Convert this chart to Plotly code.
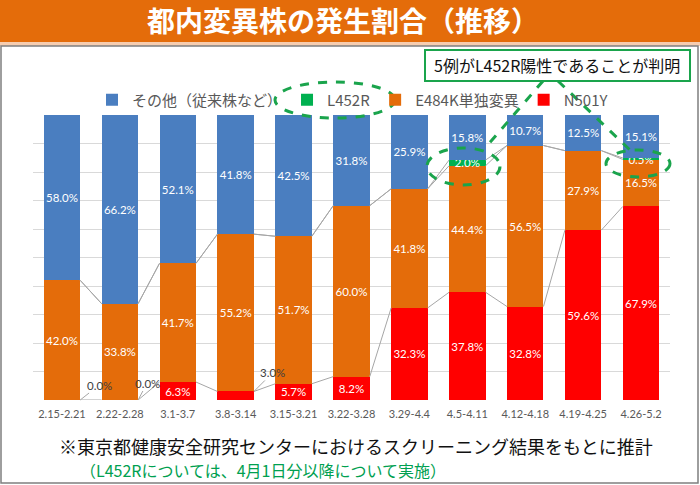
import numpy as np
import plotly.graph_objects as go

# ---------------- data ----------------
weeks = ["2.15-2.21", "2.22-2.28", "3.1-3.7", "3.8-3.14", "3.15-3.21", "3.22-3.28",
         "3.29-4.4", "4.5-4.11", "4.12-4.18", "4.19-4.25", "4.26-5.2"]
n501y = [0.0, 0.0, 6.3, 3.0, 5.7, 8.2, 32.3, 37.8, 32.8, 59.6, 67.9]
e484k = [42.0, 33.8, 41.7, 55.2, 51.7, 60.0, 41.8, 44.4, 56.5, 27.9, 16.5]
l452r = [None, None, None, None, None, None, None, 2.0, 0.0, 0.0, 0.5]
others = [58.0, 66.2, 52.1, 41.8, 42.5, 31.8, 25.9, 15.8, 10.7, 12.5, 15.1]

names = ["N501Y", "E484K単独変異", "L452R", "その他（従来株など）"]
title_text = "都内変異株の発生割合（推移）"
callout_text = "5例がL452R陽性であることが判明"
note1 = "※東京都健康安全研究センターにおけるスクリーニング結果をもとに推計"
note2 = "（L452Rについては、4月1日分以降について実施）"

# ---------------- style ----------------
W, H = 700, 485
ML, MR, MT, MB = 33, 30, 115, 85
PW, PH = W - ML - MR, H - MT - MB
colors = ["#FF0000", "#E46C0A", "#00B050", "#4A7EC0"]
GREEN = "#1AA44C"
BAR_W = 0.63
LABEL_FONT = "Lato, 'Noto Sans', sans-serif"
JP_FONT = "'Noto Sans CJK JP', sans-serif"


def PX(x):
    return (x - ML) / PW


def PY(y):
    return (H - MB - y) / PH


series = [n501y, e484k, l452r, others]
vals = np.array([[0.0 if v is None else v for v in s] for s in series])
tot = vals.sum(axis=0)
norm = vals / tot * 100
cum = np.cumsum(norm, axis=0)
xs = np.arange(len(weeks))

fig = go.Figure()
for k, (s, name, col) in enumerate(zip(series, names, colors)):
    if k == 0:
        txt = [f"{v:.1f}%" if v >= 5 else "" for v in s]
    else:
        txt = [f"{v:.1f}%" if (v is not None and v > 0) else "" for v in s]
    fig.add_trace(go.Bar(
        x=xs, y=s, name=name, marker=dict(color=col, line=dict(width=0)),
        width=BAR_W, text=txt, textposition="inside", insidetextanchor="middle",
        textangle=0,
        textfont=dict(color="white", size=11.5, family=LABEL_FONT),
        constraintext="none", cliponaxis=False, hoverinfo="skip",
    ))

# series lines (connectors between stacked segment tops)
lx, ly = [], []
for k in range(3):
    for i in range(len(weeks) - 1):
        lx += [xs[i] + BAR_W / 2, xs[i + 1] - BAR_W / 2, None]
        ly += [cum[k, i], cum[k, i + 1], None]
fig.add_trace(go.Scatter(x=lx, y=ly, mode="lines", line=dict(color="#A6A6A6", width=1),
                         showlegend=False, hoverinfo="skip"))

annotations = []
shapes = []

# outside labels for small N501Y values
offsets = {0: (19, -15), 1: (9, -17), 3: (19, -19)}
for i, v in enumerate(n501y):
    if v < 5:
        ax, ay = offsets.get(i, (15, -15))
        annotations.append(dict(
            x=xs[i] + BAR_W / 2, y=cum[0, i], xref="x", yref="y", text=f"{v:.1f}%",
            showarrow=True, arrowhead=0, arrowwidth=1, arrowcolor="#A6A6A6",
            ax=ax, ay=ay, standoff=0,
            font=dict(size=11.5, color="#404040", family=LABEL_FONT)))

# title bar
shapes.append(dict(type="rect", xref="paper", yref="paper", x0=PX(0), x1=PX(W), y0=PY(0), y1=PY(42),
                   fillcolor="#E46C0A", line=dict(width=0), layer="below"))
shapes.append(dict(type="rect", xref="paper", yref="paper", x0=PX(0), x1=PX(W), y0=PY(42), y1=PY(46),
                   fillcolor="#F6CDB0", line=dict(width=0), layer="below"))
annotations.append(dict(x=PX(343), y=PY(20), xref="paper", yref="paper", text=f"<b>{title_text}</b>",
                        showarrow=False, xanchor="center", yanchor="middle",
                        font=dict(size=28, color="white", family=JP_FONT)))
# slide border
shapes.append(dict(type="rect", xref="paper", yref="paper", x0=PX(1), x1=PX(698), y0=PY(46), y1=PY(483),
                   line=dict(color="#7F7F7F", width=1.5), layer="below"))

# callout box
shapes.append(dict(type="rect", xref="paper", yref="paper", x0=PX(425), x1=PX(690), y0=PY(50), y1=PY(81),
                   fillcolor="white", line=dict(color=GREEN, width=2)))
annotations.append(dict(x=PX(557), y=PY(65.5), xref="paper", yref="paper", text=callout_text,
                        showarrow=False, xanchor="center", yanchor="middle",
                        font=dict(size=16, color="#111111", family=JP_FONT)))
# dashed pointers and ellipses
for (x0, y0, x1, y1) in [(543, 81, 486, 147), (558, 81, 630, 150)]:
    shapes.append(dict(type="line", xref="paper", yref="paper", x0=PX(x0), y0=PY(y0), x1=PX(x1), y1=PY(y1),
                       line=dict(color=GREEN, width=3, dash="dash")))
for (x0, y0, x1, y1) in [(275, 82, 395, 118), (427, 148, 500, 185), (606, 150, 670, 177)]:
    shapes.append(dict(type="circle", xref="paper", yref="paper", x0=PX(x0), y0=PY(y0), x1=PX(x1), y1=PY(y1),
                       line=dict(color=GREEN, width=3, dash="dash")))

# footnotes
annotations.append(dict(x=PX(356), y=PY(445.5), xref="paper", yref="paper", text=note1, showarrow=False,
                        xanchor="center", yanchor="middle",
                        font=dict(size=18, color="#111111", family=JP_FONT)))
annotations.append(dict(x=PX(78), y=PY(469.5), xref="paper", yref="paper", text=note2, showarrow=False,
                        xanchor="left", yanchor="middle",
                        font=dict(size=16, color="#00A050", family=JP_FONT)))

fig.update_layout(
    width=W, height=H, margin=dict(l=ML, r=MR, t=MT, b=MB),
    paper_bgcolor="white", plot_bgcolor="white",
    barmode="stack", barnorm="percent", bargap=0.37,
    showlegend=True,
    legend=dict(orientation="h", traceorder="reversed", x=PX(92), y=PY(100), xanchor="left", yanchor="middle",
                font=dict(size=15, color="#595959", family=JP_FONT), bgcolor="rgba(0,0,0,0)",
                itemclick=False, itemdoubleclick=False),
    xaxis=dict(range=[-0.5, len(weeks) - 0.5], tickvals=list(xs), ticktext=weeks, showgrid=False,
               zeroline=False, showline=False, ticks="", ticklabelstandoff=6,
               tickfont=dict(size=11, color="#595959", family=LABEL_FONT)),
    yaxis=dict(range=[0, 100], dtick=10, showgrid=True, gridcolor="#D9D9D9", gridwidth=1,
               zeroline=False, showticklabels=False, showline=False),
    uniformtext=dict(minsize=11, mode="show"),
    annotations=annotations, shapes=shapes,
)

fig.write_html("out.html")
